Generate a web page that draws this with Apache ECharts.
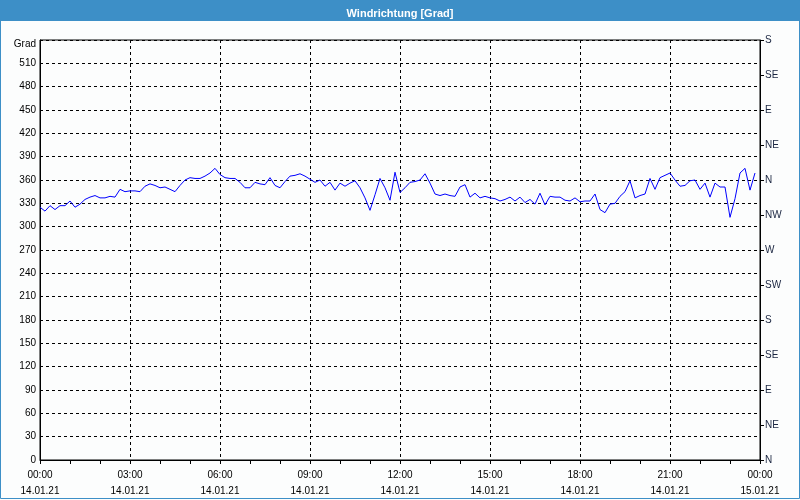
<!DOCTYPE html>
<html>
<head>
<meta charset="utf-8">
<script src="https://cdn.jsdelivr.net/npm/echarts@6/dist/echarts.min.js"></script>
<style>
html,body{margin:0;padding:0;background:#fcfdfd;}
#c{width:800px;height:500px;}
</style>
</head>
<body>
<div id="c"></div>
<script>
// Wind direction samples, every 10 minutes from 14.01.21 00:00
const stepMinutes = 10;
const windValues = [
  325,320,327,322,327,327,333,325,329,335,338,340,337,337,339,338,348,345,346,346,345,352,355,353,
  350,351,348,345,353,360,363,362,362,365,369,375,367,363,362,362,357,350,350,357,355,354,363,353,
  350,358,365,366,368,365,361,357,360,352,357,347,356,352,356,359,350,337,321,341,362,350,334,370,
  344,350,357,358,360,368,356,342,340,342,340,339,351,354,338,343,337,339,337,336,333,335,338,333,
  338,331,335,329,343,328,339,338,338,334,333,337,332,333,333,342,322,318,329,330,339,345,359,337,
  340,342,362,348,363,366,369,360,352,353,359,360,348,356,338,356,351,351,312,336,369,375,347,369
];
const timeLabels = ['00:00','03:00','06:00','09:00','12:00','15:00','18:00','21:00','00:00'];
const dateLabels = ['14.01.21','14.01.21','14.01.21','14.01.21','14.01.21','14.01.21','14.01.21','14.01.21','15.01.21'];
const dirLabels = ['N','NE','E','SE','S','SW','W','NW','N','NE','E','SE','S'];
const titleText = 'Windrichtung [Grad]';
const unitLabel = 'Grad';

const seriesData = windValues.map((v, i) => [i * stepMinutes, v]);
const font = 'Liberation Sans';

const chart = echarts.init(document.getElementById('c'), null, {renderer: 'canvas'});
chart.setOption({
  backgroundColor: '#fcfdfd',
  animation: false,
  title: {
    text: titleText,
    left: 'center',
    top: 3,
    textStyle: {color: '#ffffff', fontSize: 11, fontWeight: 'bold', fontFamily: font}
  },
  graphic: [
    {type: 'rect', z: -10, silent: true, shape: {x: 0, y: 0, width: 800, height: 21}, style: {fill: '#3d8fc7'}},
    {type: 'rect', z: -10, silent: true, shape: {x: 0.5, y: 0.5, width: 799, height: 498}, style: {fill: 'none', stroke: '#3d8fc7', lineWidth: 1}}
  ],
  grid: {left: 40, right: 40, top: 40, bottom: 40, show: true, borderColor: '#000', borderWidth: 1, backgroundColor: 'transparent'},
  xAxis: {
    type: 'value',
    min: 0, max: 1440, interval: 180,
    axisLine: {show: true, lineStyle: {color: '#000'}},
    axisTick: {show: true, length: 4, lineStyle: {color: '#000'}},
    minorTick: {show: true, splitNumber: 3, length: 4, lineStyle: {color: '#000'}},
    splitLine: {show: true, lineStyle: {color: '#000', type: [3, 3], width: 1}},
    axisLabel: {
      margin: 7, fontSize: 10, fontFamily: font, color: '#000', lineHeight: 16,
      formatter: v => { const i = Math.round(v / 180); return timeLabels[i] + '\n' + dateLabels[i]; }
    }
  },
  yAxis: [
    {
      type: 'value', min: 0, max: 540, interval: 30, position: 'left',
      axisLine: {show: true, lineStyle: {color: '#000'}},
      axisTick: {show: false},
      splitLine: {show: true, lineStyle: {color: '#000', type: [3, 3], width: 1}},
      axisLabel: {margin: 4, fontSize: 10, fontFamily: font, color: '#000',
        formatter: v => v === 540 ? '{g|' + unitLabel + '}' : String(v),
        rich: {g: {fontSize: 10, fontFamily: font, color: '#000', padding: [9, 0, 0, 0]}}}
    },
    {
      type: 'value', min: 0, max: 540, interval: 45, position: 'right',
      axisLine: {show: true, lineStyle: {color: '#000'}},
      axisTick: {show: true, length: 4, lineStyle: {color: '#000'}},
      splitLine: {show: false},
      axisLabel: {margin: 5, fontSize: 10, fontFamily: font, color: '#1a2540',
        formatter: v => dirLabels[Math.round(v / 45)]}
    }
  ],
  series: [{
    type: 'line',
    yAxisIndex: 0,
    data: seriesData,
    showSymbol: false,
    lineStyle: {color: '#0000ff', width: 1},
    itemStyle: {color: '#0000ff'}
  }]
});
</script>
</body>
</html>
